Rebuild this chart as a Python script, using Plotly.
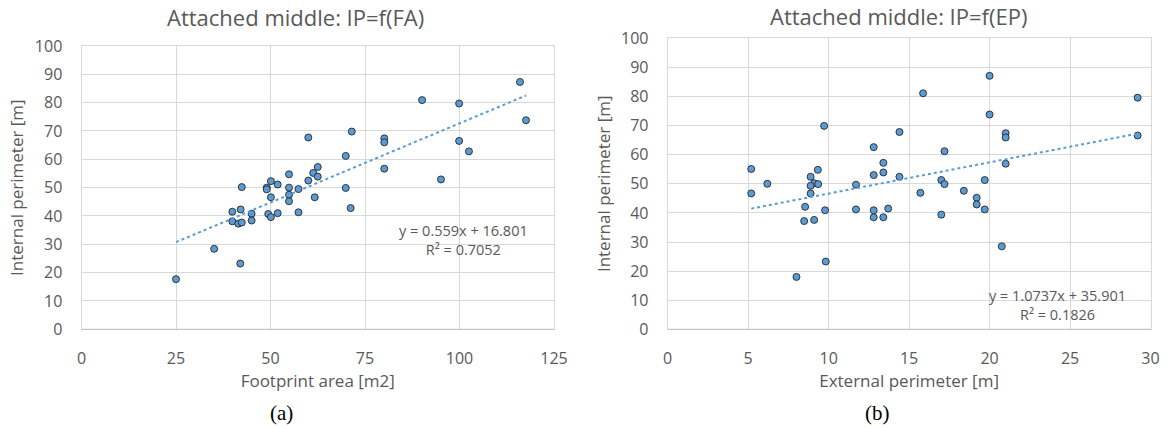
import plotly.graph_objects as go

# ---- data: chart (a) Internal perimeter vs Footprint area ----
fa_x = [116.0, 90.1, 99.9, 117.6, 71.5, 60.0, 80.1, 80.1, 99.9, 102.5, 69.9, 62.5, 61.3, 62.5,
        54.9, 60.0, 80.1, 95.1, 50.1, 51.9, 49.0, 49.0, 42.4, 54.9, 57.4, 69.9, 50.1, 54.9,
        54.9, 61.7, 71.2, 39.9, 42.1, 45.0, 49.4, 50.1, 51.9, 57.4, 39.9, 41.5, 42.4, 45.0,
        35.1, 42.0, 25.0]
fa_y = [87.3, 80.9, 79.7, 73.8, 69.8, 67.7, 67.4, 66.0, 66.5, 62.8, 61.2, 57.3, 55.2, 53.9,
        54.7, 52.5, 56.7, 52.9, 52.3, 51.1, 50.0, 49.4, 50.2, 50.0, 49.5, 49.9, 46.6, 47.5,
        45.2, 46.6, 42.8, 41.5, 42.3, 40.8, 40.7, 39.6, 41.0, 41.3, 38.1, 37.3, 37.7, 38.4,
        28.4, 23.2, 17.7]
fa_slope, fa_intercept, fa_r2 = 0.559, 16.801, 0.7052

# ---- data: chart (b) Internal perimeter vs External perimeter ----
ep_x = [20.0, 15.87, 29.2, 20.0, 9.72, 14.4, 21.0, 21.0, 29.2, 12.8, 17.2, 13.4, 21.0, 5.19,
        9.33, 13.4, 12.8, 14.4, 8.88, 19.7, 17.0, 6.19, 9.10, 9.35, 8.88, 11.7, 17.2, 5.19,
        8.88, 15.7, 18.4, 19.2, 19.2, 8.54, 9.78, 11.7, 12.8, 12.8, 13.4, 13.7, 19.7, 17.0,
        8.48, 9.10, 20.76, 9.82, 8.0]
ep_y = [87.1, 81.1, 79.6, 73.8, 69.9, 67.8, 67.4, 65.9, 66.6, 62.6, 61.2, 57.2, 56.9, 55.1,
        54.8, 53.9, 53.0, 52.4, 52.4, 51.3, 51.3, 50.0, 50.2, 49.9, 49.3, 49.7, 49.9, 46.7,
        46.7, 46.9, 47.6, 45.2, 42.9, 42.1, 40.9, 41.2, 40.9, 38.5, 38.5, 41.5, 41.2, 39.4,
        37.2, 37.6, 28.5, 23.3, 18.0]
ep_slope, ep_intercept, ep_r2 = 1.0737, 35.901, 0.1826

titles = ["Attached middle: IP=f(FA)", "Attached middle: IP=f(EP)"]
x_titles = ["Footprint area [m2]", "External perimeter [m]"]
y_title = "Internal perimeter [m]"
panel_labels = ["(a)", "(b)"]
x_ticks_a = [0, 25, 50, 75, 100, 125]
x_ticks_b = [0, 5, 10, 15, 20, 25, 30]
y_ticks = [0, 10, 20, 30, 40, 50, 60, 70, 80, 90, 100]

# ---- style ----
W, H = 1168, 428
FONT = "Open Sans"
GRAY = "#595959"
GRID = "#D9D9D9"
BLUE = "#5B9BD5"

def px(v):
    return v / W

def py(v):
    return 1 - v / H

fig = go.Figure()

def add_panel(xs, ys, slope, intercept, xa, ya):
    fig.add_trace(go.Scatter(
        x=xs, y=ys, mode="markers", xaxis=xa, yaxis=ya, showlegend=False,
        marker=dict(size=7, color=BLUE, line=dict(color="#262626", width=0.9))))
    x0, x1 = min(xs), max(xs)
    fig.add_trace(go.Scatter(
        x=[x0, x1], y=[slope * x0 + intercept, slope * x1 + intercept],
        mode="lines", xaxis=xa, yaxis=ya, showlegend=False,
        line=dict(color=BLUE, width=2, dash="dot")))

add_panel(fa_x, fa_y, fa_slope, fa_intercept, "x", "y")
add_panel(ep_x, ep_y, ep_slope, ep_intercept, "x2", "y2")

axis_common = dict(showgrid=True, gridcolor=GRID, gridwidth=1, zeroline=False,
                   showline=True, linecolor=GRID, linewidth=1, mirror=True,
                   automargin=False,
                   ticks="", tickfont=dict(family=FONT, size=16, color=GRAY))

fig.update_layout(
    template="none",
    width=W, height=H, margin=dict(l=0, r=0, t=0, b=0),
    paper_bgcolor="white", plot_bgcolor="white",
    font=dict(family=FONT, color=GRAY),
    xaxis=dict(domain=[px(81.5), px(554)], range=[0, 125], tickvals=x_ticks_a,
               anchor="y", ticklabelstandoff=14,
               title=dict(text=x_titles[0], font=dict(family=FONT, size=17, color=GRAY), standoff=7),
               **axis_common),
    yaxis=dict(domain=[py(329.3), py(46)], range=[0, 100], tickvals=y_ticks,
               anchor="x", ticklabelstandoff=15,
               title=dict(text=y_title, font=dict(family=FONT, size=17, color=GRAY), standoff=6),
               **axis_common),
    xaxis2=dict(domain=[px(667.7), px(1150.5)], range=[0, 30], tickvals=x_ticks_b,
                anchor="y2", ticklabelstandoff=14,
                title=dict(text=x_titles[1], font=dict(family=FONT, size=17, color=GRAY), standoff=7),
                **axis_common),
    yaxis2=dict(domain=[py(329.3), py(38.3)], range=[0, 100], tickvals=y_ticks,
                anchor="x2", ticklabelstandoff=15,
                title=dict(text=y_title, font=dict(family=FONT, size=17, color=GRAY), standoff=6),
                **axis_common),
)

# darker bottom axis lines
for xa, ya in [("x", "y"), ("x2", "y2")]:
    fig.add_shape(type="line", xref=f"{xa} domain", yref=f"{ya} domain",
                  x0=0, x1=1, y0=0, y1=0, line=dict(color="#BFBFBF", width=1))

# chart titles
fig.add_annotation(text=titles[0], x=px(295), y=py(17), xref="paper", yref="paper",
                   showarrow=False, xanchor="center", yanchor="middle",
                   font=dict(family=FONT, size=22, color=GRAY))
fig.add_annotation(text=titles[1], x=px(898), y=1, xref="paper", yref="paper",
                   showarrow=False, xanchor="center", yanchor="top", borderpad=0,
                   font=dict(family=FONT, size=22, color=GRAY))

# trendline equations
fig.add_annotation(text=f"y = {fa_slope}x + {fa_intercept}<br>R² = {fa_r2}",
                   x=px(463), y=py(240), xref="paper", yref="paper", showarrow=False,
                   xanchor="center", yanchor="middle", align="center",
                   font=dict(family=FONT, size=14.5, color=GRAY))
fig.add_annotation(text=f"y = {ep_slope}x + {ep_intercept}<br>R² = {ep_r2}",
                   x=px(1057), y=py(305), xref="paper", yref="paper", showarrow=False,
                   xanchor="center", yanchor="middle", align="center",
                   font=dict(family=FONT, size=14.5, color=GRAY))

# panel labels
fig.add_annotation(text=panel_labels[0], x=px(281), y=py(413), xref="paper", yref="paper",
                   showarrow=False, xanchor="center", yanchor="middle",
                   font=dict(family="Liberation Serif", size=21, color="black"))
fig.add_annotation(text=panel_labels[1], x=px(877), y=py(413), xref="paper", yref="paper",
                   showarrow=False, xanchor="center", yanchor="middle",
                   font=dict(family="Liberation Serif", size=21, color="black"))

fig.write_html("out.html")
